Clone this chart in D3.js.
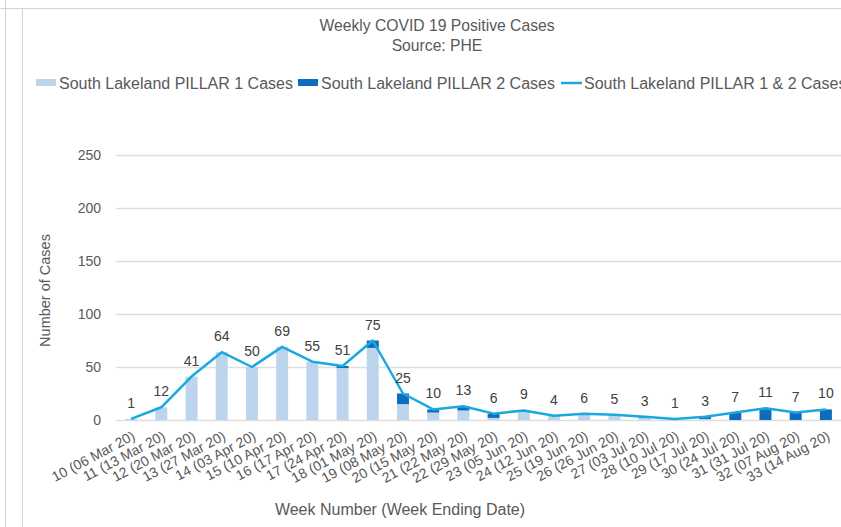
<!DOCTYPE html>
<html>
<head>
<meta charset="utf-8">
<script src="https://cdn.jsdelivr.net/npm/d3@7"></script>
<style>
  html, body { margin: 0; padding: 0; background: #fff; }
  svg { display: block; font-family: "Liberation Sans", Arial, sans-serif; }
</style>
</head>
<body>
<div id="chart"></div>
<script>
// week labels (week number + week ending date)
const WEEKS = [
  '10 (06 Mar 20)', '11 (13 Mar 20)', '12 (20 Mar 20)', '13 (27 Mar 20)',
  '14 (03 Apr 20)', '15 (10 Apr 20)', '16 (17 Apr 20)', '17 (24 Apr 20)',
  '18 (01 May 20)', '19 (08 May 20)', '20 (15 May 20)', '21 (22 May 20)',
  '22 (29 May 20)', '23 (05 Jun 20)', '24 (12 Jun 20)', '25 (19 Jun 20)',
  '26 (26 Jun 20)', '27 (03 Jul 20)', '28 (10 Jul 20)', '29 (17 Jul 20)',
  '30 (24 Jul 20)', '31 (31 Jul 20)', '32 (07 Aug 20)', '33 (14 Aug 20)'
];
const PILLAR1 = [1, 12, 41, 64, 50, 69, 55, 49, 68, 15, 7, 9, 2, 8, 4, 6, 5, 2, 1, 1, 0, 0, 0, 0];
const PILLAR2 = [0, 0, 0, 0, 0, 0, 0, 2, 7, 10, 3, 4, 4, 1, 0, 0, 0, 1, 0, 2, 7, 11, 7, 10];
const TOTAL   = [1, 12, 41, 64, 50, 69, 55, 51, 75, 25, 10, 13, 6, 9, 4, 6, 5, 3, 1, 3, 7, 11, 7, 10];
const Y_TICKS = [0, 50, 100, 150, 200, 250];

const SERIES_NAMES = [
  'South Lakeland PILLAR 1 Cases',
  'South Lakeland PILLAR 2 Cases',
  'South Lakeland PILLAR 1 & 2 Cases'
];

const COLORS = {
  p1: '#bdd5ec',
  p2: '#0f6cbd',
  line: '#19a9de',
  text: '#595959',
  label: '#404040',
  grid: '#dedede',
  frame: '#d4d4d4'
};

const W = 841, H = 527;
const PLOT = { left: 116, right: 841, top: 155, bottom: 420 };
const BAR_W = 12;
const FONT = '"Liberation Sans", Arial, sans-serif';

const rows = WEEKS.map((w, i) => ({ week: w, p1: PILLAR1[i], p2: PILLAR2[i], total: TOTAL[i] }));

const svg = d3.select('#chart').append('svg')
  .attr('width', W)
  .attr('height', H);

// screenshot frame lines
svg.append('line').attr('x1', 0).attr('x2', W).attr('y1', 8.5).attr('y2', 8.5)
  .attr('stroke', COLORS.frame);
svg.append('line').attr('x1', 5.5).attr('x2', 5.5).attr('y1', 0).attr('y2', H)
  .attr('stroke', COLORS.frame);
svg.append('line').attr('x1', 22.5).attr('x2', 22.5).attr('y1', 8).attr('y2', H)
  .attr('stroke', COLORS.frame);

const x = d3.scaleBand()
  .domain(WEEKS)
  .range([PLOT.left, PLOT.right])
  .paddingInner(0)
  .paddingOuter(0);

const y = d3.scaleLinear()
  .domain([0, 250])
  .range([PLOT.bottom, PLOT.top]);

const cx = d => x(d.week) + x.bandwidth() / 2;

// title
svg.append('text')
  .attr('x', 437).attr('y', 31)
  .attr('text-anchor', 'middle')
  .attr('font-size', 15.7)
  .attr('fill', COLORS.text)
  .text('Weekly COVID 19 Positive Cases');
svg.append('text')
  .attr('x', 437).attr('y', 51)
  .attr('text-anchor', 'middle')
  .attr('font-size', 15.7)
  .attr('fill', COLORS.text)
  .text('Source: PHE');

// legend
const legend = svg.append('g').attr('transform', 'translate(0,83)');
const legendItems = [
  { name: SERIES_NAMES[0], x: 36, type: 'bar', color: COLORS.p1 },
  { name: SERIES_NAMES[1], x: 298, type: 'bar', color: COLORS.p2 },
  { name: SERIES_NAMES[2], x: 561, type: 'line', color: COLORS.line }
];
legendItems.forEach(it => {
  if (it.type === 'bar') {
    legend.append('rect')
      .attr('x', it.x).attr('y', -4).attr('width', 20).attr('height', 7)
      .attr('fill', it.color);
  } else {
    legend.append('line')
      .attr('x1', it.x).attr('x2', it.x + 21).attr('y1', 0).attr('y2', 0)
      .attr('stroke', it.color).attr('stroke-width', 2.5);
  }
  legend.append('text')
    .attr('x', it.x + 23).attr('y', 5.5)
    .attr('font-size', 16)
    .attr('fill', COLORS.text)
    .text(it.name);
});

// y axis + gridlines
const gY = svg.append('g')
  .attr('transform', `translate(${PLOT.left},0)`)
  .call(d3.axisLeft(y).tickValues(Y_TICKS).tickSize(0).tickPadding(15))
  .call(g => g.select('.domain').remove());
gY.selectAll('.tick text')
  .attr('font-size', 14)
  .attr('font-family', FONT)
  .attr('fill', COLORS.text);
gY.selectAll('.tick line').remove();

svg.append('g')
  .selectAll('line')
  .data(Y_TICKS)
  .join('line')
  .attr('x1', PLOT.left).attr('x2', PLOT.right)
  .attr('y1', d => Math.round(y(d)) + 0.5)
  .attr('y2', d => Math.round(y(d)) + 0.5)
  .attr('stroke', COLORS.grid)
  .attr('stroke-width', 1.5);

// y title
svg.append('text')
  .attr('transform', `translate(50,${(PLOT.top + PLOT.bottom) / 2 + 3}) rotate(-90)`)
  .attr('text-anchor', 'middle')
  .attr('font-size', 14.5)
  .attr('fill', COLORS.text)
  .text('Number of Cases');

// stacked bars
const gBars = svg.append('g');
gBars.selectAll('rect.p1')
  .data(rows)
  .join('rect')
  .attr('class', 'p1')
  .attr('x', d => cx(d) - BAR_W / 2)
  .attr('width', BAR_W)
  .attr('y', d => y(d.p1))
  .attr('height', d => y(0) - y(d.p1))
  .attr('fill', COLORS.p1);
gBars.selectAll('rect.p2')
  .data(rows)
  .join('rect')
  .attr('class', 'p2')
  .attr('x', d => cx(d) - BAR_W / 2)
  .attr('width', BAR_W)
  .attr('y', d => y(d.p1 + d.p2))
  .attr('height', d => y(d.p1) - y(d.p1 + d.p2))
  .attr('fill', COLORS.p2);

// total line
const line = d3.line()
  .x(d => cx(d))
  .y(d => y(d.total));
svg.append('path')
  .datum(rows)
  .attr('d', line)
  .attr('fill', 'none')
  .attr('stroke', COLORS.line)
  .attr('stroke-width', 2.5)
  .attr('stroke-linejoin', 'round');

// data labels
svg.append('g')
  .selectAll('text')
  .data(rows)
  .join('text')
  .attr('x', d => cx(d))
  .attr('y', d => y(d.total) - 11)
  .attr('text-anchor', 'middle')
  .attr('font-size', 14)
  .attr('fill', COLORS.label)
  .text(d => d.total);

// x axis labels (rotated)
const gX = svg.append('g')
  .attr('transform', `translate(0,${PLOT.bottom})`)
  .call(d3.axisBottom(x).tickSize(0).tickPadding(0))
  .call(g => g.select('.domain').remove());
gX.selectAll('.tick text')
  .attr('font-size', 14)
  .attr('font-family', FONT)
  .attr('fill', COLORS.text)
  .attr('text-anchor', 'end')
  .attr('dy', 0)
  .attr('y', 0)
  .attr('transform', 'translate(5,19) rotate(-28)');

// x title
svg.append('text')
  .attr('x', 400).attr('y', 515)
  .attr('text-anchor', 'middle')
  .attr('font-size', 16)
  .attr('fill', COLORS.text)
  .text('Week Number (Week Ending Date)');
</script>
</body>
</html>
